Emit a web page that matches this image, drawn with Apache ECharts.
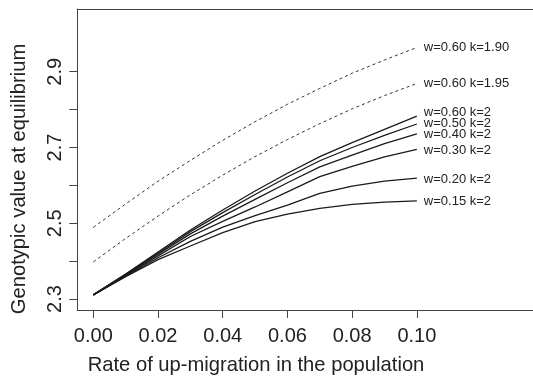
<!DOCTYPE html>
<html>
<head>
<meta charset="utf-8">
<script src="https://cdn.jsdelivr.net/npm/echarts@6/dist/echarts.min.js"></script>
<style>
html,body{margin:0;padding:0;background:#fff;}
#c{width:533px;height:381px;}
</style>
</head>
<body>
<div id="c"></div>
<script>
// Data
const xVals = [0, 0.01, 0.02, 0.03, 0.04, 0.05, 0.06, 0.07, 0.08, 0.09, 0.10];
const seriesNames = ['w=0.60 k=1.90', 'w=0.60 k=1.95', 'w=0.60 k=2', 'w=0.50 k=2', 'w=0.40 k=2', 'w=0.30 k=2', 'w=0.20 k=2', 'w=0.15 k=2'];
const k190w060 = [2.489, 2.551, 2.611, 2.666, 2.719, 2.768, 2.814, 2.856, 2.896, 2.931, 2.964];
const k195w060 = [2.398, 2.460, 2.519, 2.575, 2.627, 2.676, 2.721, 2.763, 2.802, 2.837, 2.869];
const k2w060 = [2.311, 2.366, 2.424, 2.482, 2.535, 2.585, 2.632, 2.676, 2.713, 2.748, 2.783];
const k2w050 = [2.311, 2.365, 2.421, 2.478, 2.528, 2.576, 2.622, 2.665, 2.700, 2.732, 2.762];
const k2w040 = [2.311, 2.364, 2.418, 2.472, 2.519, 2.563, 2.607, 2.649, 2.680, 2.710, 2.736];
const k2w030 = [2.311, 2.363, 2.414, 2.465, 2.505, 2.543, 2.583, 2.623, 2.650, 2.675, 2.695];
const k2w020 = [2.311, 2.361, 2.409, 2.452, 2.490, 2.520, 2.548, 2.579, 2.598, 2.611, 2.619];
const k2w015 = [2.311, 2.359, 2.404, 2.440, 2.475, 2.504, 2.524, 2.539, 2.550, 2.556, 2.559];
const xTicks = [0, 0.02, 0.04, 0.06, 0.08, 0.10];
const yTicks = [2.3, 2.4, 2.5, 2.6, 2.7, 2.8, 2.9];
const yLabels = [2.3, 2.5, 2.7, 2.9];
const xTitle = 'Rate of up-migration in the population';
const yTitle = 'Genotypic value at equilibrium';

const allValues = [k190w060, k195w060, k2w060, k2w050, k2w040, k2w030, k2w020, k2w015];
const dashed = [true, true, false, false, false, false, false, false];
const labelOffsets = [[0, 0], [0, 0], [0, -4], [0, -1], [0, 1], [0, 1], [0, 1], [0, 1]];

const FONT = '"Liberation Sans", Arial, Helvetica, sans-serif';
const chart = echarts.init(document.getElementById('c'), null, {renderer: 'canvas'});

const series = allValues.map((vals, i) => ({
  type: 'line',
  name: seriesNames[i],
  xAxisIndex: 0,
  data: xVals.map((x, j) => [x, vals[j]]),
  showSymbol: false,
  symbol: 'none',
  animation: false,
  lineStyle: {
    color: dashed[i] ? '#333' : '#1a1a1a',
    width: dashed[i] ? 1 : 1.3,
    type: dashed[i] ? [3, 3] : 'solid'
  },
  endLabel: {
    show: true,
    formatter: seriesNames[i],
    distance: 7,
    offset: labelOffsets[i],
    fontFamily: FONT,
    fontSize: 13,
    color: '#222'
  },
  emphasis: {disabled: true}
}));

const X_MIN = -0.00495, X_MAX = 0.1359;

chart.setOption({
  animation: false,
  grid: {
    left: 77.3, top: 9, right: 0, bottom: 71,
    show: false,
    containLabel: false
  },
  xAxis: [{
    type: 'value',
    min: X_MIN, max: X_MAX,
    splitLine: {show: false},
    axisLine: {show: true, onZero: false, lineStyle: {color: '#444', width: 1}},
    axisTick: {show: true, length: 8, customValues: xTicks, lineStyle: {color: '#444'}},
    axisLabel: {
      customValues: xTicks,
      formatter: v => v.toFixed(2),
      fontFamily: FONT, fontSize: 20, color: '#222', margin: 16
    }
  }, {
    type: 'value',
    position: 'top',
    min: X_MIN, max: X_MAX,
    splitLine: {show: false},
    axisLine: {show: true, onZero: false, lineStyle: {color: '#444', width: 1}},
    axisTick: {show: false},
    axisLabel: {show: false}
  }],
  yAxis: {
    type: 'value',
    min: 2.271, max: 3.0656,
    splitLine: {show: false},
    axisLine: {show: true, onZero: false, lineStyle: {color: '#444', width: 1}},
    axisTick: {show: true, length: 8, customValues: yTicks, lineStyle: {color: '#444'}},
    axisLabel: {
      customValues: yLabels,
      rotate: 90,
      formatter: v => v.toFixed(1),
      fontFamily: FONT, fontSize: 20, color: '#222', margin: 12
    }
  },
  graphic: [
    {
      type: 'text', x: 256, y: 365,
      style: {text: xTitle, fontFamily: FONT, fontSize: 20.2, fill: '#222', align: 'center', verticalAlign: 'middle'}
    },
    {
      type: 'text', x: 19, y: 179, rotation: Math.PI / 2,
      style: {text: yTitle, fontFamily: FONT, fontSize: 20.2, fill: '#222', align: 'center', verticalAlign: 'middle'}
    }
  ],
  series: series
});
</script>
</body>
</html>
